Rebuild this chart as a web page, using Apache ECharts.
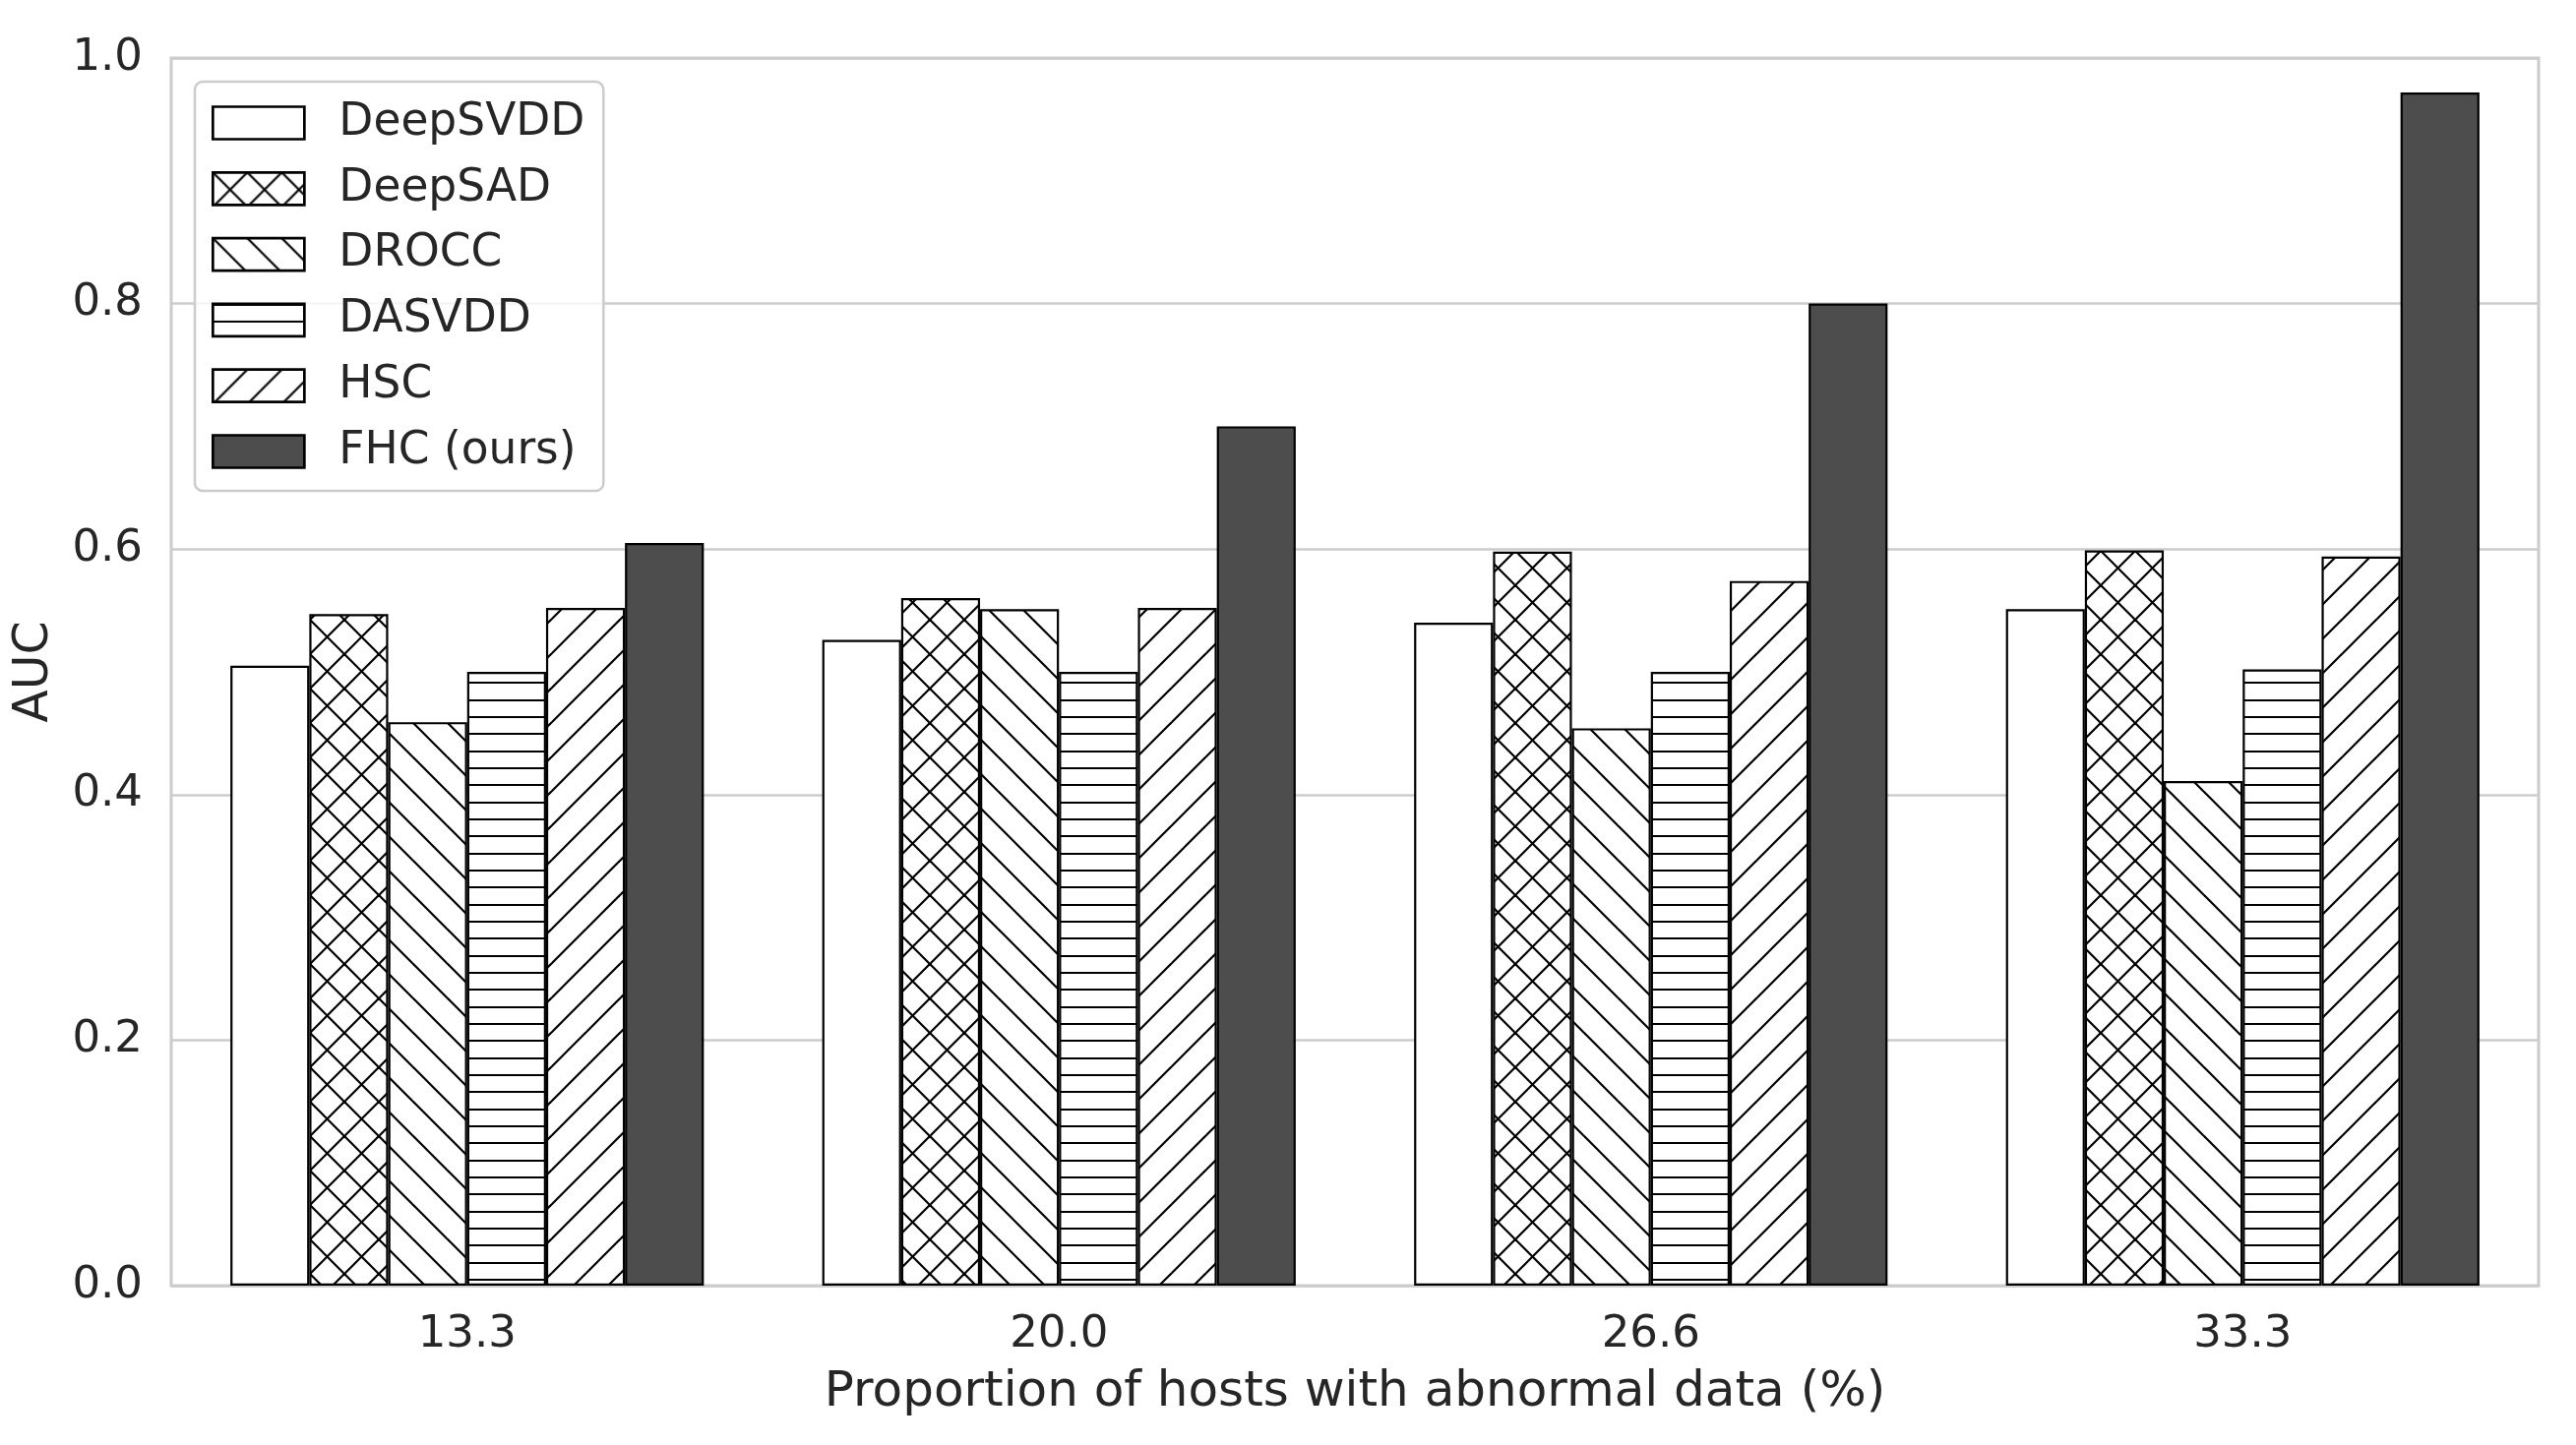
<!DOCTYPE html>
<html>
<head>
<meta charset="utf-8">
<script src="https://cdn.jsdelivr.net/npm/echarts@6/dist/echarts.min.js"></script>
<style>
html,body{margin:0;padding:0;background:#fff;}
#chart{width:2618px;height:1469px;}
</style>
</head>
<body>
<div id="chart"></div>
<script>
// ---- data ----
const categories = ['13.3', '20.0', '26.6', '33.3'];
const seriesNames = ['DeepSVDD', 'DeepSAD', 'DROCC', 'DASVDD', 'HSC', 'FHC (ours)'];
const deepSVDD = [0.505, 0.526, 0.540, 0.551];
const deepSAD  = [0.547, 0.560, 0.598, 0.599];
const drocc    = [0.459, 0.551, 0.454, 0.411];
const dasvdd   = [0.500, 0.500, 0.500, 0.502];
const hsc      = [0.552, 0.552, 0.574, 0.594];
const fhc      = [0.605, 0.700, 0.800, 0.972];
const yTicks = [0, 0.2, 0.4, 0.6, 0.8, 1.0];
const xAxisTitle = 'Proportion of hosts with abnormal data (%)';
const yAxisTitle = 'AUC';

// ---- hatch patterns ----
function diagTile(kind) {
  const s = 35;
  const c = document.createElement('canvas');
  c.width = s; c.height = s;
  const g = c.getContext('2d');
  g.fillStyle = '#fff'; g.fillRect(0, 0, s, s);
  g.strokeStyle = '#000'; g.lineWidth = 2.2; g.lineCap = 'butt';
  for (let k = -1; k <= 1; k++) {
    if (kind === 'back' || kind === 'x') {
      g.beginPath(); g.moveTo(k * s - 2, -2); g.lineTo(k * s + s + 2, s + 2); g.stroke();
    }
    if (kind === 'fwd' || kind === 'x') {
      g.beginPath(); g.moveTo(k * s - 2, s + 2); g.lineTo(k * s + s + 2, -2); g.stroke();
    }
  }
  return c;
}
function horizTile() {
  const c = document.createElement('canvas');
  c.width = 8; c.height = 52;
  const g = c.getContext('2d');
  g.fillStyle = '#fff'; g.fillRect(0, 0, 8, 52);
  g.fillStyle = '#000';
  [0, 17, 35].forEach(y => g.fillRect(0, y, 8, 2));
  return c;
}
const fills = [
  '#ffffff',
  { image: diagTile('x'), repeat: 'repeat' },
  { image: diagTile('back'), repeat: 'repeat' },
  { image: horizTile(), repeat: 'repeat' },
  { image: diagTile('fwd'), repeat: 'repeat' },
  '#4d4d4d'
];
const dataSets = [deepSVDD, deepSAD, drocc, dasvdd, hsc, fhc];

const FONT = 'DejaVu Sans';
const TXT = '#262626';

const chart = echarts.init(document.getElementById('chart'), null, { renderer: 'canvas' });
chart.setOption({
  animation: false,
  backgroundColor: '#ffffff',
  textStyle: { fontFamily: FONT, color: TXT },
  grid: {
    left: 174, right: 38, top: 59, bottom: 162,
    show: true, borderColor: '#cccccc', borderWidth: 3, backgroundColor: 'transparent'
  },
  legend: {
    orient: 'vertical',
    left: 198, top: 83,
    padding: [19, 19, 17, 17],
    itemWidth: 93, itemHeight: 33, itemGap: 20.8,
    icon: 'rect',
    selectedMode: false,
    backgroundColor: 'rgba(255,255,255,0.8)',
    borderColor: '#cccccc', borderWidth: 2.5, borderRadius: 8,
    itemStyle: { borderColor: '#000', borderWidth: 2.7 },
    textStyle: { fontFamily: FONT, fontSize: 45.5, color: TXT, padding: [0, 0, 0, 30] },
    data: seriesNames
  },
  xAxis: {
    type: 'category',
    data: categories,
    name: xAxisTitle,
    nameLocation: 'middle',
    nameGap: 84,
    nameTextStyle: { fontFamily: FONT, fontSize: 50, color: TXT },
    axisLine: { show: false },
    axisTick: { show: false },
    axisLabel: { fontFamily: FONT, fontSize: 45, color: TXT, margin: 28 },
    splitLine: { show: false }
  },
  yAxis: {
    type: 'value',
    min: 0, max: 1.0, interval: 0.2,
    name: yAxisTitle,
    nameLocation: 'middle',
    nameGap: 114,
    nameTextStyle: { fontFamily: FONT, fontSize: 49, color: TXT },
    axisLine: { show: false },
    axisTick: { show: false },
    axisLabel: {
      fontFamily: FONT, fontSize: 45, color: TXT, margin: 29,
      formatter: v => (yTicks.includes(Math.round(v * 10) / 10) ? v.toFixed(1) : '')
    },
    splitLine: { show: true, lineStyle: { color: '#cccccc', width: 2.5 } }
  },
  series: seriesNames.map((name, i) => ({
    name: name,
    type: 'bar',
    data: dataSets[i],
    barGap: '0%',
    barCategoryGap: '20%',
    itemStyle: { color: fills[i], borderColor: '#000000', borderWidth: 2.2 }
  }))
});
</script>
</body>
</html>
